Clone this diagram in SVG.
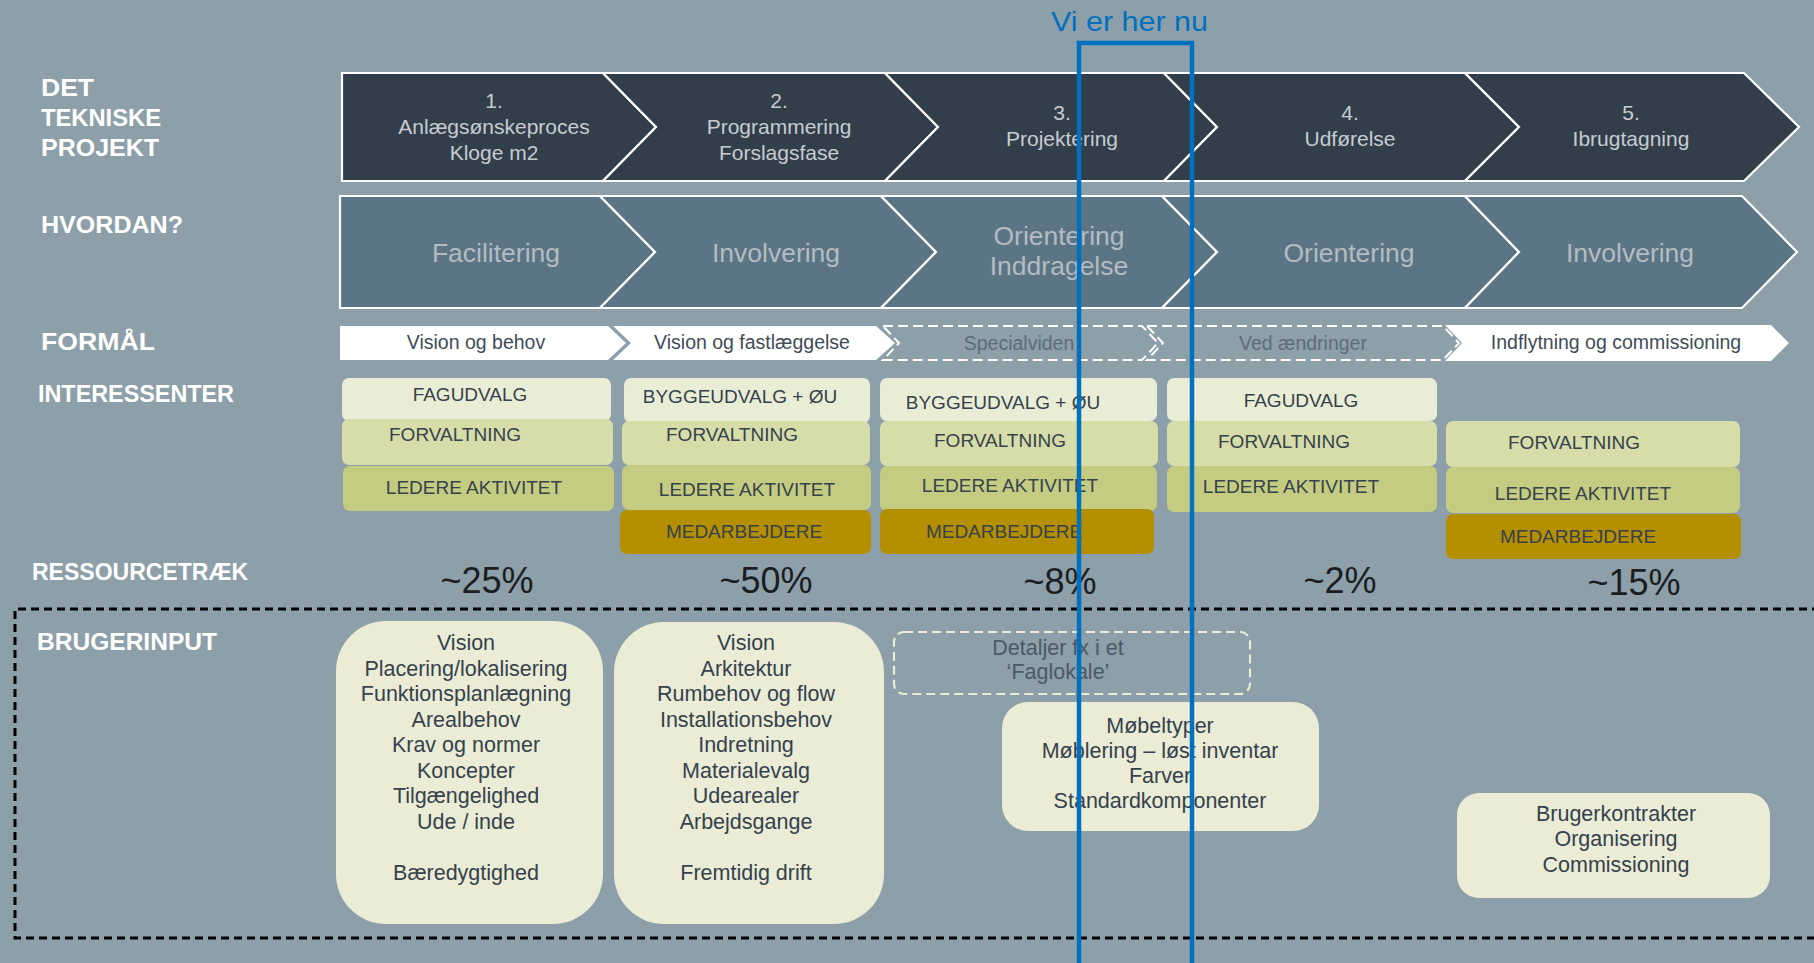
<svg xmlns="http://www.w3.org/2000/svg" width="1814" height="963" viewBox="0 0 1814 963">
<defs>
<style>
.lbl{font-family:"Liberation Sans",Arial,sans-serif;font-weight:bold;font-size:24px;fill:#ffffff}
.c1{fill:#333e4b;stroke:#ffffff;stroke-width:2.2;stroke-linejoin:miter}
.c2{fill:#5b7584;stroke:#ffffff;stroke-width:2.2;stroke-linejoin:miter}
.t1{font-family:"Liberation Sans",Arial,sans-serif;font-size:21px;fill:#c6ccd1;text-anchor:middle}
.t2{font-family:"Liberation Sans",Arial,sans-serif;font-size:26.5px;fill:#b3bcc2;text-anchor:middle}
.fw{fill:#ffffff}
.fd{fill:none;stroke:#ffffff;stroke-width:2;stroke-dasharray:10 5}
.tf{font-family:"Liberation Sans",Arial,sans-serif;font-size:19.5px;fill:#3f4c58;text-anchor:middle}
.tfd{font-family:"Liberation Sans",Arial,sans-serif;font-size:19.5px;fill:#5d6d78;text-anchor:middle}
.b1{fill:#eaedd5}
.b2{fill:#d7dda9}
.b3{fill:#c4cc82}
.b4{fill:#b48f00}
.ti{font-family:"Liberation Sans",Arial,sans-serif;font-size:19px;fill:#36414c;text-anchor:middle}
.pc{font-family:"Liberation Sans",Arial,sans-serif;font-size:36px;fill:#1b1d20;text-anchor:middle}
.ub{fill:#eaecd6}
.tu{font-family:"Liberation Sans",Arial,sans-serif;font-size:21.5px;fill:#36414c;text-anchor:middle}
</style>
</defs>
<rect x="0" y="0" width="1814" height="963" fill="#8d9fa9"/>

<g id="labels">
<text class="lbl" x="41" y="96" textLength="53" lengthAdjust="spacingAndGlyphs">DET</text>
<text class="lbl" x="41" y="126" textLength="120" lengthAdjust="spacingAndGlyphs">TEKNISKE</text>
<text class="lbl" x="41" y="156" textLength="118" lengthAdjust="spacingAndGlyphs">PROJEKT</text>
<text class="lbl" x="41" y="233" textLength="142" lengthAdjust="spacingAndGlyphs">HVORDAN?</text>
<text class="lbl" x="41" y="350" textLength="114" lengthAdjust="spacingAndGlyphs">FORMÅL</text>
<text class="lbl" x="38" y="402" textLength="196" lengthAdjust="spacingAndGlyphs">INTERESSENTER</text>
<text class="lbl" x="32" y="580" textLength="216" lengthAdjust="spacingAndGlyphs">RESSOURCETRÆK</text>
<text class="lbl" x="37" y="650" textLength="180" lengthAdjust="spacingAndGlyphs">BRUGERINPUT</text>
</g>

<g id="phase1">
<polygon class="c1" points="342,73 603,73 656,127 603,181 342,181"/>
<text class="t1" x="494" y="108">1.</text>
<text class="t1" x="494" y="134">Anlægsønskeproces</text>
<text class="t1" x="494" y="160">Kloge m2</text>
</g>
<g id="phase2">
<polygon class="c1" points="603,73 885,73 938,127 885,181 603,181 656,127"/>
<text class="t1" x="779" y="108">2.</text>
<text class="t1" x="779" y="134">Programmering</text>
<text class="t1" x="779" y="160">Forslagsfase</text>
</g>
<g id="phase3">
<polygon class="c1" points="885,73 1164,73 1217,127 1164,181 885,181 938,127"/>
<text class="t1" x="1062" y="120">3.</text>
<text class="t1" x="1062" y="146">Projektering</text>
</g>
<g id="phase4">
<polygon class="c1" points="1164,73 1465,73 1519,127 1465,181 1164,181 1217,127"/>
<text class="t1" x="1350" y="120">4.</text>
<text class="t1" x="1350" y="146">Udførelse</text>
</g>
<g id="phase5">
<polygon class="c1" points="1465,73 1744,73 1799,127 1744,181 1465,181 1519,127"/>
<text class="t1" x="1631" y="120">5.</text>
<text class="t1" x="1631" y="146">Ibrugtagning</text>
</g>

<g id="how1">
<polygon class="c2" points="340,196 600,196 655,252 600,308 340,308"/>
<text class="t2" x="496" y="262">Facilitering</text>
</g>
<g id="how2">
<polygon class="c2" points="600,196 881,196 936,252 881,308 600,308 655,252"/>
<text class="t2" x="776" y="262">Involvering</text>
</g>
<g id="how3">
<polygon class="c2" points="881,196 1162,196 1217,252 1162,308 881,308 936,252"/>
<text class="t2" x="1059" y="245">Orientering</text>
<text class="t2" x="1059" y="275">Inddragelse</text>
</g>
<g id="how4">
<polygon class="c2" points="1162,196 1465,196 1519,252 1465,308 1162,308 1217,252"/>
<text class="t2" x="1349" y="262">Orientering</text>
</g>
<g id="how5">
<polygon class="c2" points="1465,196 1742,196 1797,252 1742,308 1465,308 1519,252"/>
<text class="t2" x="1630" y="262">Involvering</text>
</g>

<g id="purpose1">
<polygon class="fw" points="340,326 608,326 626,343 608,360 340,360"/>
<text class="tf" x="476" y="349">Vision og behov</text>
</g>
<g id="purpose2">
<polygon class="fw" points="613,326 876,326 895,343 876,360 613,360 631,343"/>
<text class="tf" x="752" y="349">Vision og fastlæggelse</text>
</g>
<g id="purpose3">
<polygon class="fd" points="883,326 1142,326 1158,343 1142,360 883,360 899,343"/>
<text class="tfd" x="1019" y="350">Specialviden</text>
</g>
<g id="purpose4">
<polygon class="fd" points="1147,326 1443,326 1459,343 1443,360 1147,360 1163,343"/>
<text class="tfd" x="1303" y="350">Ved ændringer</text>
</g>
<g id="purpose5">
<polygon class="fw" points="1445,325 1771,325 1789,343 1771,361 1445,361 1462,343"/>
<text class="tf" x="1616" y="349">Indflytning og commissioning</text>
</g>

<g id="stake1">
<rect class="b1" x="342" y="378" width="269" height="43" rx="7"/>
<text class="ti" x="470" y="401">FAGUDVALG</text>
<rect class="b2" x="342" y="419" width="271" height="46" rx="7"/>
<text class="ti" x="455" y="441">FORVALTNING</text>
<rect class="b3" x="343" y="466" width="271" height="45" rx="7"/>
<text class="ti" x="474" y="494">LEDERE AKTIVITET</text>
</g>
<g id="stake2">
<rect class="b1" x="624" y="378" width="246" height="45" rx="7"/>
<text class="ti" x="740" y="403">BYGGEUDVALG + ØU</text>
<rect class="b2" x="622" y="421" width="248" height="44" rx="7"/>
<text class="ti" x="732" y="441">FORVALTNING</text>
<rect class="b3" x="622" y="465" width="249" height="45" rx="7"/>
<text class="ti" x="747" y="496">LEDERE AKTIVITET</text>
<rect class="b4" x="620" y="510" width="251" height="44" rx="7"/>
<text class="ti" x="744" y="538">MEDARBEJDERE</text>
</g>
<g id="stake3">
<rect class="b1" x="880" y="378" width="277" height="43" rx="7"/>
<text class="ti" x="1003" y="409">BYGGEUDVALG + ØU</text>
<rect class="b2" x="880" y="421" width="278" height="45" rx="7"/>
<text class="ti" x="1000" y="447">FORVALTNING</text>
<rect class="b3" x="880" y="466" width="277" height="45" rx="7"/>
<text class="ti" x="1010" y="492">LEDERE AKTIVITET</text>
<rect class="b4" x="880" y="509" width="274" height="45" rx="7"/>
<text class="ti" x="1004" y="538">MEDARBEJDERE</text>
</g>
<g id="stake4">
<rect class="b1" x="1167" y="378" width="270" height="43" rx="7"/>
<text class="ti" x="1301" y="407">FAGUDVALG</text>
<rect class="b2" x="1167" y="421" width="270" height="45" rx="7"/>
<text class="ti" x="1284" y="448">FORVALTNING</text>
<rect class="b3" x="1167" y="466" width="270" height="46" rx="7"/>
<text class="ti" x="1291" y="493">LEDERE AKTIVITET</text>
</g>
<g id="stake5">
<rect class="b2" x="1446" y="421" width="294" height="46" rx="7"/>
<text class="ti" x="1574" y="449">FORVALTNING</text>
<rect class="b3" x="1446" y="467" width="294" height="46" rx="7"/>
<text class="ti" x="1583" y="500">LEDERE AKTIVITET</text>
<rect class="b4" x="1446" y="514" width="295" height="45" rx="7"/>
<text class="ti" x="1578" y="543">MEDARBEJDERE</text>
</g>

<g id="resources">
<text class="pc" x="487" y="593">~25%</text>
<text class="pc" x="766" y="593">~50%</text>
<text class="pc" x="1060" y="594">~8%</text>
<text class="pc" x="1340" y="593">~2%</text>
<text class="pc" x="1634" y="595">~15%</text>
</g>

<g id="userinput-frame">
<path d="M1820,609 H15 V938 H1820" fill="none" stroke="#000000" stroke-width="3" stroke-dasharray="8 5"/>
</g>

<g id="input1">
<rect class="ub" x="336" y="621" width="267" height="303" rx="50"/>
<text class="tu" x="466" y="650">Vision</text>
<text class="tu" x="466" y="675.5">Placering/lokalisering</text>
<text class="tu" x="466" y="701">Funktionsplanlægning</text>
<text class="tu" x="466" y="726.5">Arealbehov</text>
<text class="tu" x="466" y="752">Krav og normer</text>
<text class="tu" x="466" y="777.5">Koncepter</text>
<text class="tu" x="466" y="803">Tilgængelighed</text>
<text class="tu" x="466" y="828.5">Ude / inde</text>
<text class="tu" x="466" y="880">Bæredygtighed</text>
</g>
<g id="input2">
<rect class="ub" x="614" y="622" width="270" height="302" rx="50"/>
<text class="tu" x="746" y="650">Vision</text>
<text class="tu" x="746" y="675.5">Arkitektur</text>
<text class="tu" x="746" y="701">Rumbehov og flow</text>
<text class="tu" x="746" y="726.5">Installationsbehov</text>
<text class="tu" x="746" y="752">Indretning</text>
<text class="tu" x="746" y="777.5">Materialevalg</text>
<text class="tu" x="746" y="803">Udearealer</text>
<text class="tu" x="746" y="828.5">Arbejdsgange</text>
<text class="tu" x="746" y="880">Fremtidig drift</text>
</g>
<g id="input3">
<rect x="894" y="632" width="356" height="62" rx="10" fill="none" stroke="#eaecd6" stroke-width="2.2" stroke-dasharray="9 5"/>
<text class="tu" x="1058" y="655" fill="#4b5a66" style="fill:#4b5a66">Detaljer fx i et</text>
<text class="tu" x="1058" y="679" style="fill:#4b5a66">‘Faglokale’</text>
</g>
<g id="input4">
<rect class="ub" x="1002" y="702" width="317" height="129" rx="26"/>
<text class="tu" x="1160" y="733">Møbeltyper</text>
<text class="tu" x="1160" y="758">Møblering – løst inventar</text>
<text class="tu" x="1160" y="783">Farver</text>
<text class="tu" x="1160" y="808">Standardkomponenter</text>
</g>
<g id="input5">
<rect class="ub" x="1457" y="793" width="313" height="105" rx="22"/>
<text class="tu" x="1616" y="821">Brugerkontrakter</text>
<text class="tu" x="1616" y="846">Organisering</text>
<text class="tu" x="1616" y="872">Commissioning</text>
</g>

<g id="current-marker">
<path d="M1079,963 V43 H1192 V963" fill="none" stroke="#0070c0" stroke-width="4.5"/>
<text x="1129.5" y="31" font-family="Liberation Sans, Arial, sans-serif" font-size="28" fill="#0070c0" text-anchor="middle" textLength="157" lengthAdjust="spacingAndGlyphs">Vi er her nu</text>
</g>
</svg>
